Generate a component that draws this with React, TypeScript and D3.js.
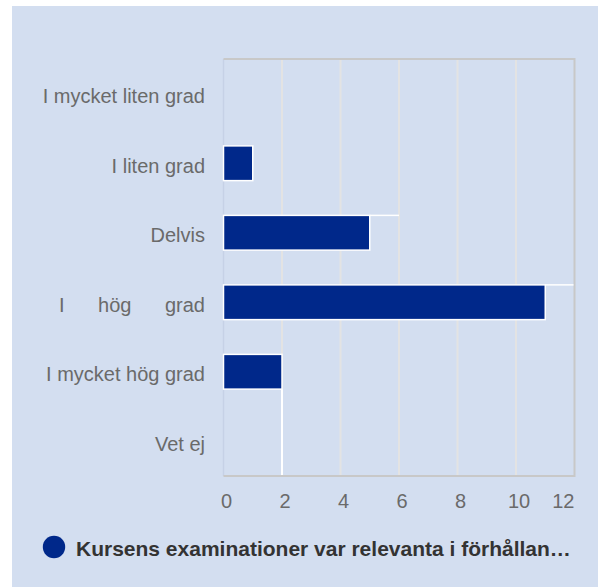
import React from "react";
import * as d3 from "d3";

const categories = ["I mycket liten grad", "I liten grad", "Delvis", "I hög grad", "I mycket hög grad", "Vet ej"];
const values = [0, 1, 5, 11, 2, 0];
const xTicks = [0, 2, 4, 6, 8, 10, 12];
const seriesName = "Kursens examinationer var relevanta i förhållan…";

const W = 598;
const H = 587;
const plot = { left: 223.5, right: 574.5, top: 59, bottom: 476 };
const BG = "#d3def0";
const BAR = "#00288a";
const FONT = "'Liberation Sans', Arial, Helvetica, sans-serif";

export default function App() {
  const x = d3.scaleLinear().domain([0, 12]).range([plot.left, plot.right]);
  const y = d3.scaleBand<string>().domain(categories).range([plot.top, plot.bottom]).paddingInner(0.5).paddingOuter(0.25);
  const band = d3.scaleBand<string>().domain(categories).range([plot.top, plot.bottom]);

  return (
    <svg width={W} height={H} style={{ position: "absolute", left: 0, top: 0, display: "block" }}>
      <rect x={12} y={6} width={W - 12} height={H - 6} fill={BG} />
      {/* gridlines */}
      {xTicks.slice(1, -1).map((t) => (
        <line key={t} x1={x(t)} x2={x(t)} y1={plot.top} y2={plot.bottom} stroke="#e3e3e3" strokeWidth={2} />
      ))}
      {/* left axis line */}
      <line x1={plot.left} x2={plot.left} y1={plot.top} y2={plot.bottom} stroke="#c6d1e6" strokeWidth={1.5} />
      {/* border */}
      <path
        d={`M${plot.left},${plot.top}H${plot.right}V${plot.bottom}H${plot.left}`}
        fill="none"
        stroke="#c8c8c8"
        strokeWidth={2}
      />
      {/* bars */}
      {values.map((v, i) =>
        v > 0 ? (
          <rect
            key={i}
            x={x(0)}
            y={y(categories[i])!}
            width={x(v) - x(0)}
            height={y.bandwidth()}
            fill={BAR}
            stroke="#ffffff"
            strokeWidth={1.5}
          />
        ) : null
      )}
      {/* rendering artifacts seen in the reference */}
      <line x1={x(5)} x2={x(6)} y1={y("Delvis")!} y2={y("Delvis")!} stroke="#fff" strokeWidth={1.5} />
      <line x1={x(11)} x2={x(12) - 1} y1={y("I hög grad")!} y2={y("I hög grad")!} stroke="#fff" strokeWidth={1.5} />
      <line
        x1={x(2)}
        x2={x(2)}
        y1={y("I mycket hög grad")! + y.bandwidth()}
        y2={plot.bottom - 1}
        stroke="#fff"
        strokeWidth={2}
      />
      {/* category labels */}
      {categories.map((c) => (
        <text
          key={c}
          x={205}
          y={band(c)! + band.bandwidth() / 2 + 9.5}
          textAnchor="end"
          fontFamily={FONT}
          fontSize={20}
          fill="#6a6a6a"
          wordSpacing={c === "I hög grad" ? 28 : 0}
        >
          {c}
        </text>
      ))}
      {/* x tick labels */}
      {xTicks.map((t, i) => {
        const last = i === xTicks.length - 1;
        return (
          <text
            key={t}
            x={last ? x(t) : x(t) + 3}
            y={plot.bottom + 32}
            textAnchor={last ? "end" : "middle"}
            fontFamily={FONT}
            fontSize={20}
            fill="#6a6a6a"
          >
            {t}
          </text>
        );
      })}
      {/* legend */}
      <circle cx={54} cy={547} r={11.2} fill={BAR} />
      <text x={76} y={556} fontFamily={FONT} fontSize={21} fontWeight="bold" fill="#333333">
        {seriesName}
      </text>
    </svg>
  );
}
